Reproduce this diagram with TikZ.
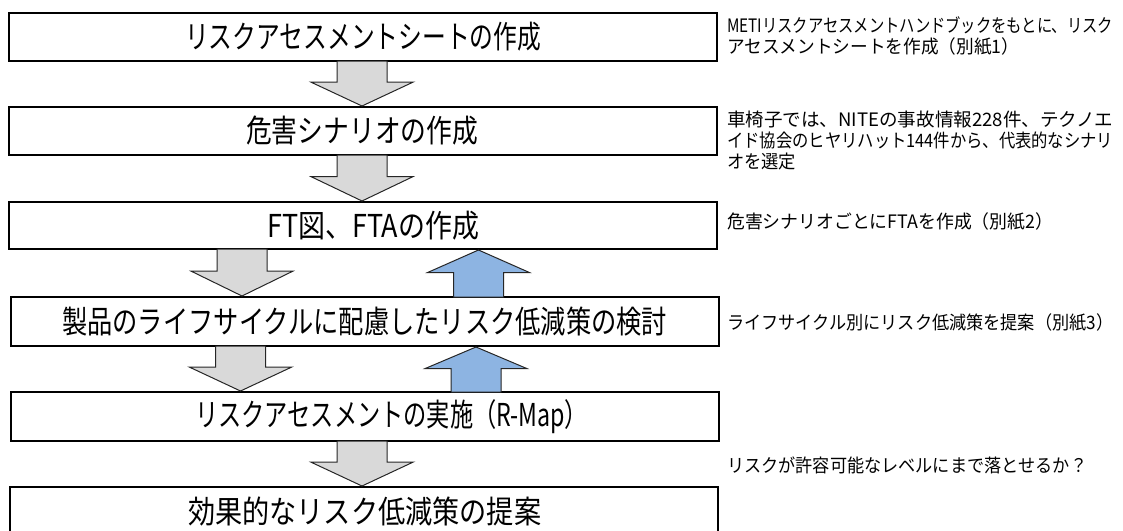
\documentclass[tikz,border=0pt]{standalone}
\usepackage{fontspec}
\setmainfont{Noto Sans CJK JP}
\usetikzlibrary{calc}
\definecolor{arrowgray}{HTML}{D9D9D9}
\definecolor{arrowblue}{HTML}{8DB4E2}
\newcommand{\fitw}[2]{\resizebox{#1pt}{\height}{#2}}
\newcommand{\blockarrow}[4]{%
  \draw[#1] ($(#2)+(-25,0)$) -- ($(#2)!#4!(#3)+(-25,0)$) -- ($(#2)!#4!(#3)+(-51,0)$)
    -- (#3) -- ($(#2)!#4!(#3)+(51,0)$) -- ($(#2)!#4!(#3)+(25,0)$) -- ($(#2)+(25,0)$) -- cycle;}
\begin{document}
\begin{tikzpicture}[x=1pt,y=-1pt,
  box/.style={draw=black, line width=2pt, fill=white, inner sep=0pt, outer sep=0pt},
  btext/.style={anchor=west, inner sep=0pt, font=\fontsize{31.5}{36}\selectfont},
  stext/.style={anchor=west, inner sep=0pt, font=\fontsize{18.5}{20}\selectfont},
  garrow/.style={fill=arrowgray, draw=black!85, line width=1pt, line join=miter},
  uarrow/.style={fill=arrowblue, draw=black!85, line width=1pt, line join=miter}]
\useasboundingbox (0,0) rectangle (1123,530);
\clip (0,0) rectangle (1123,530);
% boxes
\node[box, minimum width=708, minimum height=48.3] (b1) at (363,36.85) {};
\node[box, minimum width=708, minimum height=48] (b2) at (363,131) {};
\node[box, minimum width=708, minimum height=47] (b3) at (363,225.5) {};
\node[box, minimum width=708, minimum height=49] (b4) at (365,321.5) {};
\node[box, minimum width=708, minimum height=49] (b5) at (365,416.5) {};
\node[box, minimum width=708, minimum height=49] (b6) at (364,511.5) {};
% box texts
\node[btext] (t1) at (185,37) {\fitw{356}{リスクアセスメントシートの作成}};
\node[btext] (t2) at (246,131) {\fitw{232}{危害シナリオの作成}};
\node[btext] (t3) at (267,225.5) {\fitw{212}{FT図、FTAの作成}};
\node[btext] (t4) at (62,321.5) {\fitw{605}{製品のライフサイクルに配慮したリスク低減策の検討}};
\node[btext] (t5) at (195,416.5) {\fitw{393}{リスクアセスメントの実施（R-Map）}};
\node[btext] (t6) at (188,511.5) {\fitw{353}{効果的なリスク低減策の提案}};
% side texts
\node[stext] (s1a) at (727,25) {\fitw{386}{METIリスクアセスメントハンドブックをもとに、リスク}};
\node[stext] (s1b) at (727,46.5) {\fitw{292}{アセスメントシートを作成（別紙1）}};
\node[stext] (s2a) at (727,119) {\fitw{386}{車椅子では、NITEの事故情報228件、テクノエ}};
\node[stext] (s2b) at (727,140.5) {\fitw{386}{イド協会のヒヤリハット144件から、代表的なシナリ}};
\node[stext] (s2c) at (727,162) {\fitw{69}{オを選定}};
\node[stext] (s3) at (727,222) {\fitw{326}{危害シナリオごとにFTAを作成（別紙2）}};
\node[stext] (s4) at (727,323) {\fitw{386}{ライフサイクル別にリスク低減策を提案（別紙3）}};
\node[stext] (s5) at (727,465) {\fitw{360}{リスクが許容可能なレベルにまで落とせるか？}};
% arrow end points
\coordinate (a1s) at (362,0 |- b1.south);
\coordinate (a1e) at ($(362,0 |- b2.north)+(0,-1)$);
\coordinate (a2s) at (362,0 |- b2.south);
\coordinate (a2e) at ($(362,0 |- b3.north)+(0,-1)$);
\coordinate (a3s) at (242,0 |- b3.south);
\coordinate (a3e) at ($(242,0 |- b4.north)+(0,-1)$);
\coordinate (u3s) at (478.5,0 |- b4.north);
\coordinate (u3e) at ($(478.5,0 |- b3.south)+(0,1)$);
\coordinate (a4s) at (240.5,0 |- b4.south);
\coordinate (a4e) at ($(240.5,0 |- b5.north)+(0,-1)$);
\coordinate (u4s) at (476,0 |- b5.north);
\coordinate (u4e) at ($(476,0 |- b4.south)+(0,1)$);
\coordinate (a5s) at (362,0 |- b5.south);
\coordinate (a5e) at ($(362,0 |- b6.north)+(0,-1)$);
% arrows
\blockarrow{garrow}{a1s}{a1e}{0.47}
\blockarrow{garrow}{a2s}{a2e}{0.47}
\blockarrow{garrow}{a3s}{a3e}{0.47}
\blockarrow{uarrow}{u3s}{u3e}{0.52}
\blockarrow{garrow}{a4s}{a4e}{0.47}
\blockarrow{uarrow}{u4s}{u4e}{0.52}
\blockarrow{garrow}{a5s}{a5e}{0.47}
\end{tikzpicture}
\end{document}
